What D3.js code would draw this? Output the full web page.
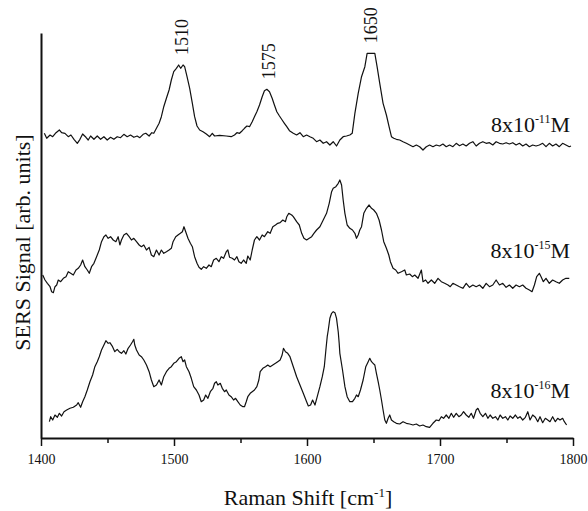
<!DOCTYPE html>
<html>
<head>
<meta charset="utf-8">
<script src="https://cdnjs.cloudflare.com/ajax/libs/d3/7.8.5/d3.min.js"></script>
<style>
    body { margin: 0; background: #fff; }
    text { font-family: 'Liberation Serif', 'Times New Roman', serif; fill: #111; }
</style>
</head>
<body>
<div id="sers-chart"></div>
<script>
// SERS spectra, offset for display: [Raman shift cm-1, signal arb. units]
var spectrum11 = [[1402.5,304.7],[1404.3,299.7],[1406.8,303],[1408.8,301.3],[1411.3,305.3],[1413.8,308],[1415.5,305.3],[1418,304.7],[1420.5,301.3],[1422.5,303],[1424.8,298.7],[1427.3,294.7],[1429.3,298.7],[1431.3,304],[1433.8,300.7],[1435.5,298],[1437.3,302],[1439.8,298.7],[1442.3,302],[1444.8,298.7],[1447.3,301.3],[1449.8,298],[1452.3,300.7],[1454.8,298.7],[1457.3,301.3],[1459.8,300.3],[1462.3,303.7],[1464.8,301.3],[1467.3,303],[1469.8,300.7],[1472.3,302],[1474.3,300.3],[1476.8,303.7],[1478.8,304.7],[1481.3,302],[1483.3,305.3],[1484.8,304.7],[1486.8,309.7],[1488.8,314.7],[1490.5,321.3],[1492.3,331.3],[1494.3,339.7],[1496.3,348],[1498,358],[1499.8,366.3],[1501.8,369.7],[1503.5,373],[1505,369.7],[1506.8,373],[1508,371.3],[1509.8,361.3],[1511.8,349.7],[1513.8,334.7],[1515.5,321.3],[1517.3,312],[1519.3,308],[1521.8,306.3],[1524.3,304],[1526.8,301.3],[1528.8,304.7],[1530.5,302],[1534.3,302.7],[1539.3,302],[1543,301.3],[1545.5,303],[1547.3,305.3],[1549.3,304.7],[1551.3,307.3],[1553,309.7],[1554.8,312],[1556.8,311.3],[1558.8,316.3],[1560.5,321.3],[1562.3,326.3],[1564.3,333],[1566.3,341.3],[1568,347.3],[1569.8,348.7],[1571.8,346.3],[1573.8,339.7],[1575.5,333],[1577.3,326.3],[1579.3,322],[1581.3,318],[1583,314.7],[1584.8,311.3],[1586.8,307.3],[1589.7,304.7],[1592.2,303],[1594.7,305.3],[1597.2,301.3],[1599.7,303],[1602.2,301.3],[1604.7,299.7],[1607.2,296.3],[1609.7,298],[1612.2,294.7],[1614.7,296.3],[1617.2,293],[1619.7,296.3],[1622.2,292],[1624.7,298],[1627.2,301.3],[1629.7,302],[1632.2,303],[1634,304.7],[1636,324.7],[1638.5,344.7],[1641,361.3],[1643.5,371.3],[1645.2,384.7],[1648.5,384.7],[1651,384.7],[1652.7,371.3],[1654.7,354.7],[1657.2,334.7],[1659.7,323],[1661.7,311.3],[1663.5,301.3],[1665.2,299.7],[1667.2,298.7],[1669.7,298],[1672.2,296.3],[1674.7,294.7],[1677.2,293],[1679.7,291.3],[1682.2,293],[1684.7,291.3],[1687.2,288],[1689.7,291.3],[1692.2,293],[1694.7,291.3],[1697.2,293],[1699.7,292],[1702.2,294],[1704.7,291.3],[1707.2,293],[1709.7,291.3],[1712.2,294.7],[1714.7,292.3],[1717.2,294],[1719.7,292],[1722.2,294.7],[1724.7,296.3],[1727.2,292],[1729.7,294.7],[1732.2,296.3],[1734.7,294.7],[1737.2,295.3],[1739.7,293],[1742.2,296.3],[1744.7,294.7],[1747.2,294],[1749.7,295.3],[1752.2,294],[1754.7,295.3],[1757.2,293],[1759.7,294.7],[1762.2,292],[1764.7,294],[1767.2,291.3],[1769.7,293],[1772.2,292],[1774.7,293],[1777.2,294.7],[1779.7,291.3],[1782.2,294.7],[1784.7,292],[1787.2,294],[1789.7,291.3],[1792.2,294.7],[1794.7,293],[1797.2,291.3],[1798.5,292]];

var spectrum15 = [[1401.3,163],[1403,158],[1404.8,154.7],[1406.8,151.3],[1408,146.3],[1409.3,145.3],[1410.5,151.3],[1411.8,153],[1413,158],[1414.8,156.3],[1416.8,159.7],[1418.8,161.3],[1420.5,166.3],[1422.3,164.7],[1424.3,163],[1426.3,168],[1428,169.7],[1429.8,173],[1431.3,178],[1433,171.3],[1434.8,168],[1436.3,164.7],[1438,171.3],[1439.8,174.7],[1441.8,181.3],[1443.8,188],[1445.5,196.3],[1447.3,201.3],[1448.8,203],[1450.5,199.7],[1452.3,201.3],[1454.3,198],[1456.3,196.3],[1458,201.3],[1459.3,193],[1460.5,198],[1462.3,203],[1464.3,204.7],[1466.3,201.3],[1468,198],[1469.8,199.7],[1471.8,196.3],[1473.8,193],[1475.5,191.3],[1477.3,193],[1479.3,188],[1481.3,190.7],[1483,183],[1484.8,181.3],[1486.8,188],[1488.8,183],[1490.5,188],[1492.3,184.7],[1494.3,186.3],[1496.3,188],[1498,189.7],[1499.3,196.3],[1501.3,201.3],[1503,203],[1504.8,204.7],[1506.3,206.3],[1507.5,211.3],[1508.8,206.3],[1510.5,199.7],[1512.3,194.7],[1513.8,191.3],[1515.5,181.3],[1517.3,174.7],[1518.8,170.7],[1520.5,168.7],[1522.3,171.3],[1524.3,169.7],[1526.3,173],[1528,171.3],[1529.8,178],[1531.8,179.7],[1533.8,176.3],[1535.5,181.3],[1537.3,179.7],[1539.3,186.3],[1540.5,188],[1541.8,180.7],[1543.8,179.7],[1545.5,178],[1547.3,181.3],[1548.8,176.3],[1550.5,174.7],[1552.3,178],[1554.3,174.7],[1555.5,182],[1557.3,178],[1558.8,188],[1560.5,198],[1562.3,201.3],[1564.3,198],[1566.3,203],[1568,201.3],[1570.5,206.3],[1572.3,204.7],[1574.3,211.3],[1576.3,213],[1578,214.7],[1579.8,215.3],[1581.8,218],[1583.8,216.3],[1584.8,221.3],[1586.3,224.7],[1588.5,223],[1589.7,221.3],[1592.2,216.3],[1594.2,213],[1596,204.7],[1597.7,199.7],[1599.7,198],[1601.7,199.7],[1603.5,201.3],[1605.2,204.7],[1607.2,208],[1609.7,211.3],[1612.2,218],[1614.7,224.7],[1616.7,234.7],[1618.5,246.3],[1619.7,249.7],[1621.7,251.3],[1623.5,254.7],[1624.7,258],[1626,253],[1627.2,238],[1628.5,224.7],[1630.2,213],[1632.2,209.7],[1634.2,208],[1636,204.7],[1637.2,199.7],[1638.5,203],[1639.7,208],[1641,211.3],[1642.7,224.7],[1644.7,229.7],[1646.7,233],[1648.5,229.7],[1650.2,228],[1652.2,224.7],[1654.2,218],[1656,208],[1657.7,196.3],[1659.7,189.7],[1661.5,183],[1662.7,176.3],[1664.7,169.7],[1666.7,168],[1668.5,164.7],[1671,166.3],[1673.5,168],[1674.7,163],[1677.2,164],[1679.2,161.3],[1681,163],[1683.5,159.7],[1686,168],[1687.2,156.3],[1689.2,158],[1691,154.7],[1693.5,158],[1696,154.7],[1698.5,159.7],[1701,156.3],[1703.5,154.7],[1706,153],[1707.7,151.3],[1709.7,154.7],[1712.2,153],[1714.7,151.3],[1717.2,149.7],[1719.7,154.7],[1722.2,150.7],[1724.7,153],[1727.2,151.3],[1729.7,153],[1732.2,149.7],[1734.7,154.7],[1737.2,151.3],[1739.7,153],[1742.2,158],[1744.7,153],[1747.2,154.7],[1749.7,150.7],[1752.2,153],[1754.7,149.7],[1757.2,153],[1759.7,151.3],[1762.2,153],[1764.7,149.7],[1767.2,148],[1769.2,146.3],[1771,153],[1772.7,161.3],[1774.7,164.7],[1776,161.3],[1777.7,156.3],[1779.7,159.7],[1782.2,154.7],[1784.7,158],[1787.2,156.3],[1789.7,154.7],[1792.2,158],[1794.7,159.7],[1797.2,159.7]];

var spectrum16 = [[1406.3,16.3],[1407.3,21.3],[1408.8,18],[1410.5,23],[1412.3,20.7],[1413.8,24.7],[1415.5,22],[1417.3,26.3],[1419.3,28],[1421.8,29.7],[1424.3,30.7],[1426.8,33],[1428,35.3],[1429.8,30.7],[1431.3,36.3],[1433,41.3],[1434.8,48],[1436.8,56.3],[1438.8,63],[1440.5,71.3],[1442.3,76.3],[1443.8,81.3],[1445.5,88],[1447.3,93],[1448.8,97.3],[1450.5,94.7],[1451.8,95.3],[1453.8,91.3],[1455.5,86.3],[1457.3,88.7],[1458.8,86.3],[1460.5,84.7],[1462.3,87.3],[1463.8,84],[1465.5,89.7],[1467.3,93],[1468.8,96.3],[1469.8,98.7],[1470.5,93],[1471.8,88],[1473.8,83],[1475.5,81.3],[1477.3,78],[1479.3,73],[1481.3,66.3],[1483,58],[1484.8,51.3],[1486.8,53],[1488.8,58],[1490.5,53],[1492.3,61.3],[1494.3,66.3],[1496.3,69.7],[1498,71.3],[1499.8,74.7],[1501.8,76.3],[1503.8,79.7],[1505.5,81.3],[1506.8,76.3],[1508,78],[1509.3,71.3],[1511.3,66.3],[1513,59.7],[1514.8,51.3],[1516.8,48],[1518.8,43],[1520.5,36.3],[1522.3,38],[1523.8,43],[1525.5,39.7],[1527.3,46.3],[1529.3,49.7],[1530.5,54.7],[1531.8,56.3],[1533,53],[1534.8,54.7],[1536.3,49.7],[1538,46.3],[1539.3,48],[1541.3,43],[1543,41.3],[1544.8,38],[1546.3,39.7],[1548,36.3],[1549.8,33],[1551.8,31.3],[1553,31.3],[1554.3,36.3],[1555.5,41.3],[1557.3,44.7],[1558.8,46.3],[1560.5,48],[1562.3,51.3],[1563.8,58],[1564.8,66.3],[1566.8,69.7],[1568.8,71.3],[1570.5,73],[1572.3,71.3],[1574.3,73],[1576.3,74.7],[1578,76.3],[1579.8,78],[1581.3,83],[1582.3,89.7],[1583.8,86.3],[1585.5,84.7],[1587.2,81.3],[1589.7,71.3],[1592.2,61.3],[1594.7,53],[1597.2,44.7],[1599.7,36.3],[1601,32],[1602.7,33],[1604.2,38],[1606,33],[1607.7,41.3],[1609.7,51.3],[1611.5,61.3],[1613,71.3],[1614.2,88],[1615.2,101.3],[1616,108],[1617.2,119.7],[1618.5,124.7],[1619.7,126.3],[1621,125.3],[1622.2,119.7],[1623.5,106],[1624.2,94.7],[1624.7,84.7],[1626.7,68],[1628.5,51.3],[1630.2,41.3],[1632.2,36.3],[1634.2,36.3],[1636,39.7],[1637.2,43],[1638.5,41.3],[1640.2,48],[1642.2,58],[1644.2,71.3],[1646,76.3],[1647.2,79.7],[1648.5,76.3],[1649.7,74.7],[1651,73],[1652.2,64.7],[1653.5,56.3],[1654.7,48],[1656,38],[1657.2,28],[1658.5,18],[1659.7,14.7],[1661,19.7],[1662.2,23],[1663.5,18],[1665.2,16.3],[1667.2,14.7],[1669.7,14],[1672.2,16.3],[1674.7,14.7],[1677.2,14],[1679.7,13],[1682.2,14],[1684.7,12],[1687.2,13],[1689.7,11.3],[1692.2,10.7],[1694.7,14.7],[1697.2,18],[1699.2,17.3],[1701,21.3],[1702.7,19.7],[1704.7,23],[1706.7,19.7],[1708.5,24.7],[1710.2,20.7],[1712.2,24.7],[1714.2,21.3],[1716,23],[1717.7,26.3],[1719.7,23],[1721.7,20.7],[1723.5,24.7],[1725.2,19.7],[1727.2,28],[1728.5,29.7],[1730.2,24.7],[1732.2,21.3],[1734.2,24.7],[1736,19.7],[1737.7,23],[1739.7,19.7],[1741.7,21.3],[1743.5,18],[1745.2,23],[1747.2,19.7],[1749.2,21.3],[1751,18],[1752.7,22],[1754.7,19.7],[1756.7,23],[1758.5,19.7],[1760.2,21.3],[1762.2,18],[1764.2,20.7],[1766,26.3],[1767.7,18],[1769.7,23],[1771.7,20.7],[1773.5,16.3],[1775.2,21.3],[1777.2,15.3],[1779.2,19.7],[1781,18],[1782.7,16.3],[1784.7,21.3],[1786.7,16.3],[1788.5,19.7],[1790.2,18],[1792.2,19.7],[1793.5,16.3],[1795.2,13]];

var exponents = ['-11', '-15', '-16'];
var labelLevels = [306, 180, 40];
var peakShifts = [1506, 1571, 1648];
var peakNames = ['1510', '1575', '1650'];
var xTicks = [1400, 1500, 1600, 1700, 1800];
var xMinorTicks = [1450, 1550, 1650, 1750];

makeSpectra();

function makeSpectra() {
    var fullwidth = 588;
    var fullheight = 511;
    var margin = { top: 33, right: 15, bottom: 73, left: 41 };
    var width = fullwidth - margin.left - margin.right;
    var height = fullheight - margin.top - margin.bottom;

    var svg = d3.select('#sers-chart')
        .append('svg')
        .attr('width', fullwidth)
        .attr('height', fullheight);
    var g = svg.append('g')
        .attr('transform', 'translate(' + margin.left + ',' + margin.top + ')');

    var x = d3.scaleLinear().domain([1400, 1800]).range([0, width]);
    var y = d3.scaleLinear().domain([0, 405]).range([height, 0]);

    var line = d3.line()
        .x(function(d) { return x(d[0]); })
        .y(function(d) { return y(d[1]); });

    g.selectAll('path.spectrum')
        .data([spectrum11, spectrum15, spectrum16])
        .enter().append('path')
        .attr('class', 'spectrum')
        .attr('d', line)
        .attr('fill', 'none')
        .attr('stroke', '#111')
        .attr('stroke-width', 1.2)
        .attr('stroke-linejoin', 'round');

    // x axis, major + minor ticks pointing out
    var xAxis = g.append('g')
        .attr('transform', 'translate(0,' + height + ')')
        .call(d3.axisBottom(x).tickValues(xTicks).tickSize(8).tickSizeOuter(0).tickPadding(8).tickFormat(d3.format('d')));
    xAxis.select('.domain').attr('stroke', '#111').attr('stroke-width', 2);
    xAxis.selectAll('.tick line').attr('stroke', '#111').attr('stroke-width', 1.5);
    xAxis.selectAll('.tick text')
        .attr('font-size', 14)
        .style('font-family', "'Liberation Serif', serif")
        .attr('fill', '#222');

    var xMinor = g.append('g')
        .attr('transform', 'translate(0,' + height + ')')
        .call(d3.axisBottom(x).tickValues(xMinorTicks).tickSize(5).tickFormat(''));
    xMinor.select('.domain').remove();
    xMinor.selectAll('.tick line').attr('stroke', '#111').attr('stroke-width', 1.5);

    // y axis: bare line
    var yAxis = g.append('g')
        .call(d3.axisLeft(y).tickValues([]).tickSizeOuter(0));
    yAxis.select('.domain').attr('stroke', '#111').attr('stroke-width', 2);

    // peak labels above the top spectrum
    peakShifts.forEach(function(p, i) {
        var top = d3.max(spectrum11.filter(function(d) { return Math.abs(d[0] - p) < 5; }), function(d) { return d[1]; });
        g.append('text')
            .attr('transform', 'translate(' + x(p) + ',' + (y(top) - 10) + ') rotate(-90)')
            .attr('dy', '0.35em')
            .attr('font-size', 18)
            .text(peakNames[i]);
    });

    // concentration labels
    exponents.forEach(function(e, i) {
        var t = g.append('text')
            .attr('x', width - 3)
            .attr('y', y(labelLevels[i]))
            .attr('text-anchor', 'end')
            .attr('font-size', 22);
        t.append('tspan').text('8x10');
        t.append('tspan').attr('dy', -9).attr('font-size', 12).text(e);
        t.append('tspan').attr('dy', 9).text('M');
    });

    // axis titles
    var xt = g.append('text')
        .attr('x', width / 2 + 1)
        .attr('y', height + 67)
        .attr('text-anchor', 'middle')
        .attr('font-size', 22);
    xt.append('tspan').text('Raman Shift [cm');
    xt.append('tspan').attr('dy', -8).attr('font-size', 13).text('-1');
    xt.append('tspan').attr('dy', 8).text(']');

    g.append('text')
        .attr('transform', 'translate(-11,' + (height / 2 + 7) + ') rotate(-90)')
        .attr('text-anchor', 'middle')
        .attr('font-size', 22)
        .text('SERS Signal [arb. units]');
}
</script>
</body>
</html>
